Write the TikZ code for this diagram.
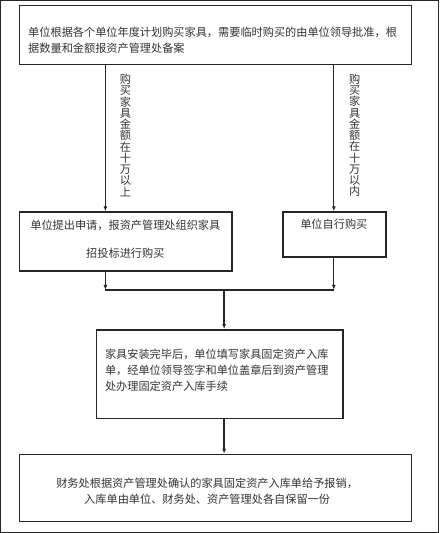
\documentclass[tikz,border=0pt]{standalone}
\usepackage{fontspec}
\setmainfont{Noto Sans CJK SC}
\usepackage{tikz}
\usetikzlibrary{arrows.meta, positioning}

\begin{document}
\begin{tikzpicture}[x=1pt, y=-1pt]

\tikzset{box/.style = {draw=black!85, line width=1.6pt, rectangle, inner sep=0pt}}
\tikzset{txt/.style = {inner sep=0pt, font=\fontsize{11.2}{15.8}\selectfont, text=black!80}}
\tikzset{vtxt/.style = {inner sep=0pt, text width=11.2pt, align=center, font=\fontsize{11.2}{11.3}\selectfont, text=black!80}}
\tikzset{every path/.style = {line width=1.3pt, draw=black!85}}
\tikzset{flow/.style = {-{Latex[length=5pt,width=4pt]}}}

\useasboundingbox (0,0) rectangle (439,533);

% columns
\coordinate (lc) at (105,0);
\coordinate (rc) at (334,0);
\coordinate (mc) at (224,0);
\coordinate (join) at (224,290);

% boxes
\node[box, minimum width=393pt, minimum height=59pt] (plan) at (215.5,34.5) {};
\node[txt, anchor=west, align=left] (plantext) at (27,40)
  {单位根据各个单位年度计划购买家具，需要临时购买的由单位领导批准，根\\据数量和金额报资产管理处备案};

\node[box, minimum width=213pt, minimum height=59pt] (tender) at (125.5,241.5) {};
\node[txt, align=center, font=\fontsize{11.2}{28}\selectfont] (tendertext) at (125,239)
  {单位提出申请，报资产管理处组织家具\\招投标进行购买};

\node[box, minimum width=103pt, minimum height=45pt] (self) at (334.5,234.5) {};
\node[txt] (selftext) at (334,224) {单位自行购买};

\node[box, minimum width=247pt, minimum height=89pt] (stock) at (219.5,374.5) {};
\node[txt, anchor=west, align=left] (stocktext) at (104,370.5)
  {家具安装完毕后，单位填写家具固定资产入库\\单，经单位领导签字和单位盖章后到资产管理\\处办理固定资产入库手续};

\node[box, minimum width=393pt, minimum height=67pt] (refund) at (215.5,488.5) {};
\node[txt, align=center] (refundtext) at (207,491.5)
  {财务处根据资产管理处确认的家具固定资产入库单给予报销，\\入库单由单位、财务处、资产管理处各自保留一份};

% conditions
\node[vtxt] (over) at (125,135) {购\\买\\家\\具\\金\\额\\在\\十\\万\\以\\上};
\node[vtxt] (under) at (355,135) {购\\买\\家\\具\\金\\额\\在\\十\\万\\以\\内};

%edges
\draw[flow] (plan.south -| lc) -- (tender.north -| lc);
\draw[flow] (plan.south -| rc) -- (self.north -| rc);
\draw[flow] (tender.south -| lc) -- (join -| lc);
\draw[flow] (self.south -| rc) -- (join -| rc);
\draw (join -| lc) -- (join -| rc);
\draw[flow] (join) -- (stock.north -| mc);
\draw[flow] (stock.south -| mc) -- (refund.north -| mc);
\end{tikzpicture}
\end{document}
